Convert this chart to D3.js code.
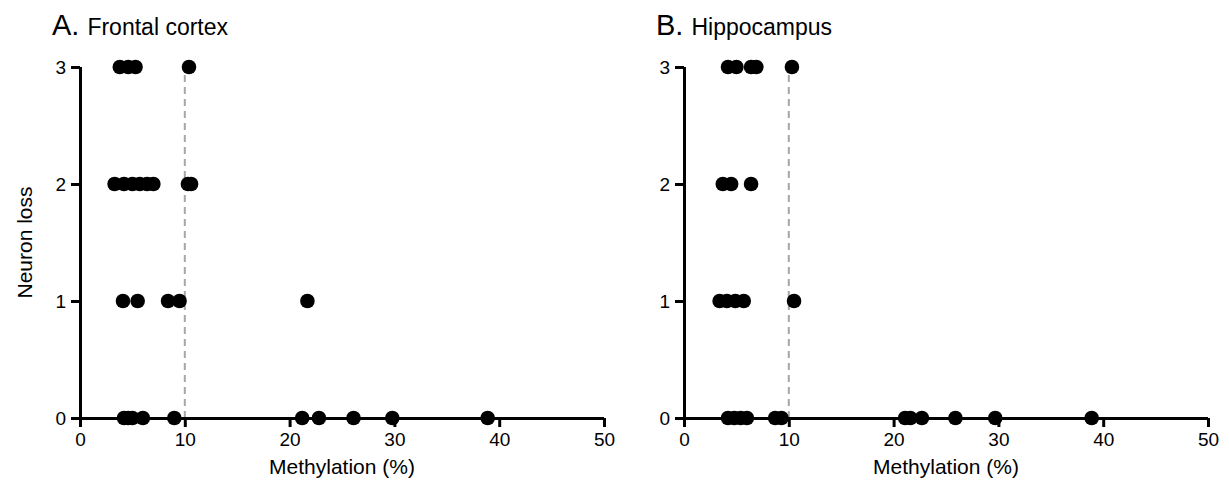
<!DOCTYPE html>
<html>
<head>
<meta charset="utf-8">
<script src="https://cdn.jsdelivr.net/npm/d3@7"></script>
<style>
  body { margin: 0; background: #fff; }
  text { font-family: "Liberation Sans", Arial, sans-serif; fill: #000; }
</style>
</head>
<body>
<svg id="chart" width="1229" height="496"></svg>
<script>
const svg = d3.select("#chart");

// methylation (%) per neuron loss score
const frontalX = [3.8, 4.6, 5.3, 10.4,
                  3.3, 4.2, 5.0, 5.7, 6.4, 7.0, 10.3, 10.6,
                  4.1, 5.5, 8.4, 9.5, 21.7,
                  4.2, 4.6, 5.0, 6.0, 9.0, 21.2, 22.8, 26.1, 29.8, 38.9];
const frontalY = [3, 3, 3, 3,
                  2, 2, 2, 2, 2, 2, 2, 2,
                  1, 1, 1, 1, 1,
                  0, 0, 0, 0, 0, 0, 0, 0, 0, 0];
const hippoX = [4.2, 5.0, 6.4, 6.9, 10.3,
                3.7, 4.5, 6.4,
                3.4, 4.1, 4.9, 5.7, 10.5,
                4.2, 4.8, 5.4, 6.0, 8.7, 9.3, 21.1, 21.6, 22.7, 25.9, 29.7, 38.9];
const hippoY = [3, 3, 3, 3, 3,
                2, 2, 2,
                1, 1, 1, 1, 1,
                0, 0, 0, 0, 0, 0, 0, 0, 0, 0, 0, 0];
const xTicks = [0, 10, 20, 30, 40, 50];
const yTicks = [0, 1, 2, 3];
const cutoff = 10;

const panels = [
  { letter: "A.", name: "Frontal cortex", xs: frontalX, ys: frontalY, left: 80, yLabel: true },
  { letter: "B.", name: "Hippocampus", xs: hippoX, ys: hippoY, left: 684, yLabel: false }
];

const plotW = 524;
const plotTop = 67;
const plotBottom = 418;

panels.forEach(p => {
  const x = d3.scaleLinear().domain([0, 50]).range([p.left, p.left + plotW]);
  const y = d3.scaleLinear().domain([0, 3]).range([plotBottom, plotTop]);
  const g = svg.append("g");

  // dashed cutoff line
  g.append("line")
    .attr("x1", x(cutoff)).attr("x2", x(cutoff))
    .attr("y1", y(3) + 8).attr("y2", y(0))
    .attr("stroke", "#a6a6a6")
    .attr("stroke-width", 2)
    .attr("stroke-dasharray", "7,5");

  // x axis
  const xa = g.append("g")
    .attr("transform", `translate(0,${plotBottom})`)
    .call(d3.axisBottom(x).tickValues(xTicks).tickSize(9).tickPadding(6));
  // y axis
  const ya = g.append("g")
    .attr("transform", `translate(${p.left},0)`)
    .call(d3.axisLeft(y).tickValues(yTicks).tickSize(9).tickPadding(5).tickFormat(d3.format("d")));

  [xa, ya].forEach(a => {
    a.select(".domain").attr("stroke", "#000").attr("stroke-width", 3);
    a.selectAll(".tick line").attr("stroke", "#000").attr("stroke-width", 3);
    a.selectAll(".tick text").style("font-size", "19px").attr("fill", "#000")
      .style("font-family", "'Liberation Sans', Arial, sans-serif");
  });
  xa.select(".domain").attr("d", `M${p.left - 9},0.5H${p.left + plotW}`);
  ya.select(".domain").attr("d", `M0.5,${plotTop}V${plotBottom}`);

  // points
  g.selectAll("circle")
    .data(p.xs.map((v, i) => [v, p.ys[i]]))
    .join("circle")
    .attr("cx", d => x(d[0]))
    .attr("cy", d => y(d[1]))
    .attr("r", 7.3)
    .attr("fill", "#000");

  // title
  const t = g.append("text")
    .attr("x", p.left - 28)
    .attr("y", 35);
  t.append("tspan").style("font-size", "29px").text(p.letter);
  t.append("tspan").attr("dx", 8).style("font-size", "23px").text(p.name);

  // axis titles
  g.append("text")
    .attr("x", p.left + plotW / 2)
    .attr("y", 474)
    .attr("text-anchor", "middle")
    .style("font-size", "21px")
    .text("Methylation (%)");

  if (p.yLabel) {
    g.append("text")
      .attr("transform", `translate(32,${(plotTop + plotBottom) / 2}) rotate(-90)`)
      .attr("text-anchor", "middle")
      .style("font-size", "21px")
      .text("Neuron loss");
  }
});
</script>
</body>
</html>
